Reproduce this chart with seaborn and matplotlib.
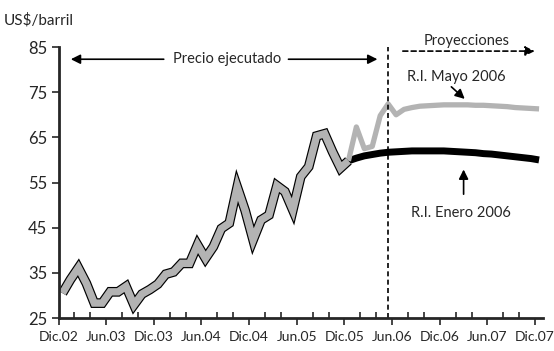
import numpy as np
import pandas as pd
import matplotlib
matplotlib.use("Agg")
import matplotlib.pyplot as plt
from matplotlib.ticker import MultipleLocator
import seaborn as sns

# --- data (monthly, plotted at mid-month; month 0 = Dic.02) ---
executed = [30.5, 33.5, 36.1, 32.7, 28.3, 28.3, 30.8, 30.8, 32.0, 27.9, 30.3, 31.3, 32.5,
            34.7, 35.2, 37.1, 37.1, 41.2, 38.2, 40.8, 44.8, 46.0, 54.0, 48.8, 42.3,
            46.7, 47.8, 54.3, 53.0, 48.9, 56.3, 58.5, 65.3, 65.8, 61.8, 58.2, 59.8]
mayo_2006 = [59.8, 67.3, 62.5, 63.0, 69.8, 72.4, 70.0, 71.2, 71.6, 71.9, 72.0, 72.1, 72.2,
             72.2, 72.2, 72.2, 72.1, 72.1, 72.0, 71.9, 71.8, 71.6, 71.5, 71.4, 71.3]
enero_2006 = [59.8, 60.4, 60.9, 61.2, 61.5, 61.7, 61.8, 61.9, 62.0, 62.0, 62.0, 62.0, 62.0,
              61.9, 61.8, 61.7, 61.6, 61.4, 61.3, 61.1, 60.9, 60.7, 60.5, 60.3, 60.0]
tick_labels = ["Dic.02", "Jun.03", "Dic.03", "Jun.04", "Dic.04", "Jun.05",
               "Dic.05", "Jun.06", "Dic.06", "Jun.07", "Dic.07"]
y_ticks = [25, 35, 45, 55, 65, 75, 85]

df_exec = pd.DataFrame({"mes": np.arange(len(executed)) + 0.5, "precio": executed})
df_mayo = pd.DataFrame({"mes": np.arange(len(mayo_2006)) + 36.5, "precio": mayo_2006})
df_enero = pd.DataFrame({"mes": np.arange(len(enero_2006)) + 36.5, "precio": enero_2006})

sns.set_style("ticks")
plt.rcParams["font.family"] = ["Lato", "DejaVu Sans"]

fig = plt.figure(figsize=(5.54, 3.51), dpi=100)
ax = fig.add_axes([0.1056, 0.094, 0.8746, 0.772])

gray = "#b3b3b3"
sns.lineplot(data=df_enero, x="mes", y="precio", ax=ax, color="black", lw=5.0,
             estimator=None, solid_capstyle="butt")
sns.lineplot(data=df_mayo, x="mes", y="precio", ax=ax, color=gray, lw=3.8,
             estimator=None, solid_capstyle="butt")
sns.lineplot(data=df_exec, x="mes", y="precio", ax=ax, color="black", lw=7.0,
             estimator=None, solid_joinstyle="miter", solid_capstyle="butt")
sns.lineplot(data=df_exec, x="mes", y="precio", ax=ax, color=gray, lw=5.3,
             estimator=None, solid_joinstyle="miter", solid_capstyle="butt")

ax.set_xlim(0, 61)
ax.set_ylim(25, 85)
ax.set_xticks(np.arange(0, 61, 6))
ax.set_xticklabels(tick_labels)
ax.xaxis.set_minor_locator(MultipleLocator(2))
ax.set_yticks(y_ticks)
ax.set_xlabel("")
ax.set_ylabel("")
sns.despine(ax=ax)
for s in ["left", "bottom"]:
    ax.spines[s].set_linewidth(2)
ax.tick_params(axis="x", which="major", direction="out", length=5, width=1.2,
               labelsize=10, pad=4)
ax.tick_params(axis="x", which="minor", direction="in", length=4, width=1.2)
ax.tick_params(axis="y", which="major", direction="out", length=5, width=1.2,
               labelsize=12, pad=3)

# divider between executed and projected
ax.axvline(41.5, ymin=0, ymax=1.0, color="black", lw=1.2, ls=(0, (3, 2)))

# annotations
arrow = dict(arrowstyle="-|>", color="black", lw=1.2, mutation_scale=14)
ax.text(21.2, 82.3, "Precio ejecutado", ha="center", va="center", fontsize=10.5)
ax.annotate("", xy=(1.2, 82.3), xytext=(13.6, 82.3), arrowprops=arrow)
ax.annotate("", xy=(40.5, 82.3), xytext=(28.6, 82.3), arrowprops=arrow)

ax.text(51.4, 86.4, "Proyecciones", ha="center", va="center", fontsize=10.5, clip_on=False)
ax.annotate("", xy=(60.3, 84.1), xytext=(43.0, 84.1), annotation_clip=False,
            arrowprops=dict(arrowstyle="-|>", color="black", lw=1.2, ls=(0, (3, 2)),
                            mutation_scale=14))

ax.text(50.1, 78.3, "R.I. Mayo 2006", ha="center", va="center", fontsize=10.5)
ax.annotate("", xy=(51.4, 73.1), xytext=(49.2, 76.6), arrowprops=arrow)

ax.text(50.7, 48.2, "R.I. Enero 2006", ha="center", va="center", fontsize=10.5)
ax.annotate("", xy=(51.0, 58.5), xytext=(51.0, 51.8), arrowprops=arrow)

fig.text(0.006, 0.943, "US$/barril", ha="left", va="center", fontsize=11)

plt.savefig("out.png", dpi=100)
